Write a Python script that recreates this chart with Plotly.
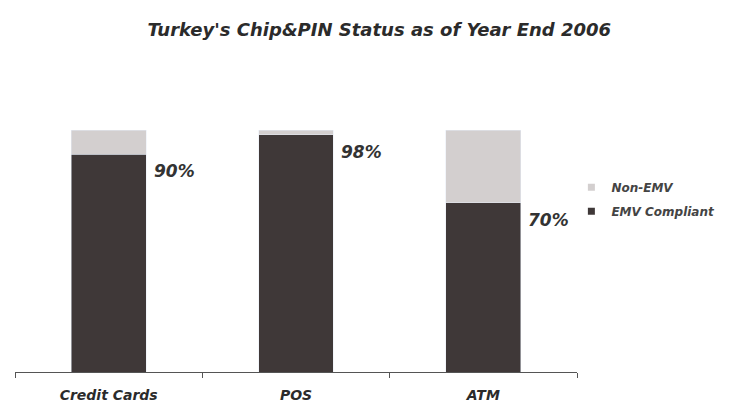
import plotly.graph_objects as go

categories = ["Credit Cards", "POS", "ATM"]
emv_compliant = [90, 98, 70]
non_emv = [10, 2, 30]
labels = ["90%", "98%", "70%"]

dark = "#3f3838"
light = "#d3cfcf"
font_family = "DejaVu Sans, Liberation Sans, Arial"

fig = go.Figure()
fig.add_trace(go.Bar(x=categories, y=emv_compliant, marker_color=dark, showlegend=False,
                     name="EMV Compliant", hoverinfo="skip"))
fig.add_trace(go.Bar(x=categories, y=non_emv, marker_color=light, showlegend=False,
                     name="Non-EMV", hoverinfo="skip"))
# legend entries with small square markers
fig.add_trace(go.Scatter(x=[None], y=[None], mode="markers", name="Non-EMV",
                         legendgroup="non", legendrank=1,
                         marker=dict(symbol="square", size=7, color=light)))
fig.add_trace(go.Scatter(x=[None], y=[None], mode="markers", name="EMV Compliant",
                         legendgroup="emv", legendrank=2,
                         marker=dict(symbol="square", size=7, color=dark)))

for i, (v, t) in enumerate(zip(emv_compliant, labels)):
    fig.add_annotation(x=i + 0.23, y=v, text=t, showarrow=False, xanchor="left",
                       yanchor="middle", yshift=-17,
                       font=dict(family=font_family, size=17, color="#333333",
                                 weight="bold", style="italic"))

fig.update_layout(
    width=748, height=406,
    margin=dict(l=15, r=171, t=130, b=34, autoexpand=False),
    paper_bgcolor="white", plot_bgcolor="white",
    barmode="stack", bargap=0.6,
    title=dict(text="Turkey's Chip&PIN Status as of Year End 2006",
               x=0.507, xref="container", xanchor="center",
               y=1 - 30 / 406, yref="container", yanchor="middle",
               font=dict(family=font_family, size=18, color="#2b2b2b",
                         weight="bold", style="italic")),
    xaxis=dict(type="category", range=[-0.5, 2.5], showline=True, linecolor="#555555",
               linewidth=1, ticks="outside", tickson="boundaries", ticklen=5,
               tickcolor="#555555", showgrid=False, zeroline=False,
               automargin=False, ticklabelstandoff=10,
               tickfont=dict(family=font_family, size=14, color="#2b2b2b",
                             weight="bold", style="italic")),
    yaxis=dict(range=[0, 100], visible=False, showgrid=False, zeroline=False,
               automargin=False),
    legend=dict(x=0.99, xanchor="left", y=0.823, yanchor="top",
                traceorder="grouped", tracegroupgap=5,
                bgcolor="rgba(0,0,0,0)",
                font=dict(family=font_family, size=12, color="#444444",
                          weight="bold", style="italic")),
)

fig.write_html("out.html")
